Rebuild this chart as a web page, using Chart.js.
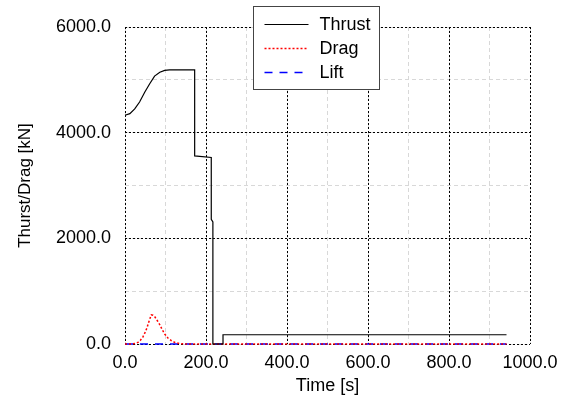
<!DOCTYPE html>
<html>
<head>
<meta charset="utf-8">
<script src="https://cdn.jsdelivr.net/npm/chart.js@4/dist/chart.umd.min.js"></script>
<style>
  body { margin: 0; background: #fff; }
  #wrap { width: 568px; height: 399px; }
</style>
</head>
<body>
<div id="wrap"><canvas id="myChart" width="568" height="399"></canvas></div>
<script>
// datos
var tEmpuje = [0, 12, 24, 36, 49, 61, 73, 86, 98, 110, 172, 172, 213, 213, 217, 217, 242, 242, 942];
var empuje  = [4330, 4360, 4450, 4580, 4770, 4925, 5070, 5145, 5180, 5190, 5190, 3560, 3530, 2360, 2310, 0, 0, 175, 175];

var tArrastre = [0, 15, 25, 32, 38, 44, 49, 54, 58, 62, 65, 69, 74, 80, 86, 92, 98, 106, 115, 123, 135, 150, 942];
var arrastre  = [0, 2, 10, 30, 70, 130, 210, 300, 400, 490, 550, 545, 510, 440, 364, 270, 190, 113, 60, 30, 8, 0, 0];

var tSustentacion = [0, 942];
var sustentacion  = [0, 0];

var etiquetas = ['Thrust', 'Drag', 'Lift'];

function puntos(ts, vs) {
    return ts.map(function (t, i) { return { x: t, y: vs[i] }; });
}

var fuente = "'Liberation Sans', Arial, Helvetica, sans-serif";

// leyenda dibujada a mano (caja blanca encima de la grilla)
var leyenda = {
    id: 'leyenda',
    afterDraw: function (chart) {
        var ctx = chart.ctx;
        var area = chart.chartArea;
        var x0 = area.left + 128.5, y0 = area.top - 20.5;
        ctx.save();
        ctx.fillStyle = '#fff';
        ctx.fillRect(x0, y0, 126, 83);
        ctx.strokeStyle = '#444';
        ctx.lineWidth = 1;
        ctx.strokeRect(x0, y0, 126, 83);
        chart.data.datasets.forEach(function (ds, i) {
            var y = y0 + 18 + i * 24;
            ctx.beginPath();
            ctx.strokeStyle = ds.borderColor;
            ctx.lineWidth = ds.borderWidth;
            ctx.setLineDash(ds.borderDash || []);
            ctx.moveTo(x0 + 11, y);
            ctx.lineTo(x0 + 55, y);
            ctx.stroke();
            ctx.setLineDash([]);
            ctx.fillStyle = '#000';
            ctx.font = '18px ' + fuente;
            ctx.textBaseline = 'middle';
            ctx.fillText(ds.label, x0 + 66, y + 1);
        });
        ctx.restore();
    }
};

var ctx = document.getElementById('myChart');

window.grafica = new Chart(ctx, {
    type: 'line',
    data: {
        datasets: [{
            label: etiquetas[0],
            data: puntos(tEmpuje, empuje),
            borderColor: '#000',
            borderWidth: 1.2,
            pointRadius: 0,
            tension: 0,
            clip: false
        }, {
            label: etiquetas[1],
            data: puntos(tArrastre, arrastre),
            borderColor: '#ff0000',
            borderWidth: 1.5,
            borderDash: [2, 2],
            pointRadius: 0,
            tension: 0,
            clip: false
        }, {
            label: etiquetas[2],
            data: puntos(tSustentacion, sustentacion),
            borderColor: '#0000ff',
            borderWidth: 1.5,
            borderDash: [8, 7],
            pointRadius: 0,
            tension: 0,
            clip: false
        }]
    },
    options: {
        responsive: false,
        animation: false,
        layout: { padding: { left: 0, right: 38, top: 27, bottom: 0 } },
        plugins: {
            legend: { display: false },
            tooltip: { enabled: false }
        },
        scales: {
            // grilla menor (gris, rayada)
            xm: {
                type: 'linear', axis: 'x', position: 'bottom',
                min: 0, max: 1000,
                ticks: { stepSize: 100, display: false },
                grid: { color: '#d8d8d8', lineWidth: 1, drawTicks: false },
                border: { display: false, dash: [4, 3] },
                afterFit: function (s) { s.height = 0; }
            },
            ym: {
                type: 'linear', axis: 'y', position: 'left',
                min: 0, max: 6000,
                ticks: { stepSize: 1000, display: false },
                grid: { color: '#d8d8d8', lineWidth: 1, drawTicks: false },
                border: { display: false, dash: [4, 3] },
                afterFit: function (s) { s.width = 0; }
            },
            // grilla mayor (negra, punteada)
            x: {
                type: 'linear', position: 'bottom',
                min: 0, max: 1000,
                ticks: {
                    stepSize: 200, color: '#000', padding: 8,
                    maxRotation: 0, autoSkip: false,
                    font: { family: fuente, size: 18 },
                    callback: function (v) { return v.toFixed(1); }
                },
                grid: { color: '#000', lineWidth: 1, drawTicks: false },
                border: { display: false, dash: [2, 2] },
                title: {
                    display: true, text: 'Time [s]', color: '#000',
                    font: { family: fuente, size: 18 },
                    padding: { top: 0, bottom: 2 }
                },
                afterFit: function (s) { s.height = 55; }
            },
            y: {
                type: 'linear', position: 'left',
                min: 0, max: 6000,
                ticks: {
                    stepSize: 2000, color: '#000', padding: 14,
                    font: { family: fuente, size: 18 },
                    callback: function (v) { return v.toFixed(1); }
                },
                grid: { color: '#000', lineWidth: 1, drawTicks: false },
                border: { display: false, dash: [2, 2] },
                title: {
                    display: true, text: 'Thurst/Drag [kN]', color: '#000',
                    font: { family: fuente, size: 17 },
                    padding: { top: 15, bottom: 0 }
                },
                afterFit: function (s) { s.width = 125; }
            }
        }
    },
    plugins: [leyenda]
});
</script>
</body>
</html>
